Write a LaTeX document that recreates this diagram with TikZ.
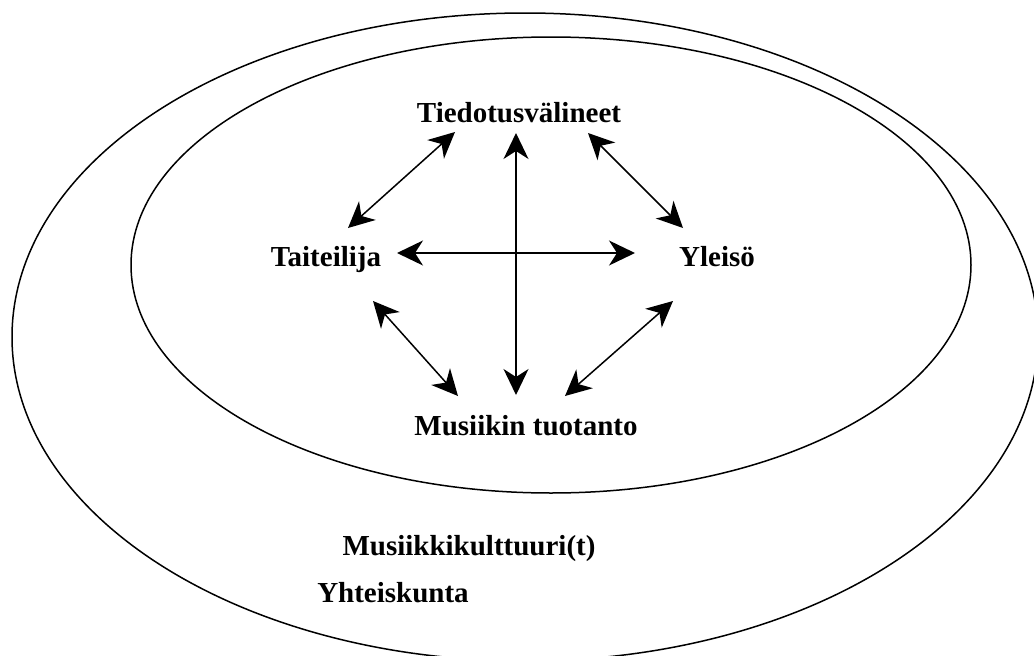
\documentclass[tikz,border=0pt]{standalone}
\usepackage{fontspec}
\setmainfont{Liberation Serif}
\usetikzlibrary{arrows.meta,calc}
\begin{document}
\begin{tikzpicture}[x=1pt, y=-1pt,
    lbl/.style={font=\fontsize{29}{34}\selectfont\bfseries, inner sep=0pt, anchor=base},
    twoway/.style={{Stealth[length=26pt,width=25pt,inset=8pt]}-{Stealth[length=26pt,width=25pt,inset=8pt]}, line width=1.5pt}]
    \useasboundingbox (0,0) rectangle (1034,656);
    \clip (0,0) rectangle (1034,656);
    % Yhteiskunta and musiikkikulttuuri(t)
    \draw[line width=1.5pt] (525,337) ellipse [x radius=513, y radius=324];
    \draw[line width=1.5pt] (551,265) ellipse [x radius=420, y radius=228];
    % ... labels
    \node[lbl] (media) at (519,122) {Tiedotusvälineet};
    \node[lbl] (artist) at (326,266) {Taiteilija};
    \node[lbl] (public) at (717,266) {Yleisö};
    \node[lbl] (prod) at (526,435) {Musiikin tuotanto};
    \node[lbl] (culture) at (469,555) {Musiikkikulttuuri(t)};
    \node[lbl] (society) at (393,602) {Yhteiskunta};
    % arrow ends, offsets from the labels
    \coordinate (a1) at ($(artist.base)+(71,-13)$); \coordinate (p1) at ($(public.base)+(-82,-13)$);
    \coordinate (m1) at ($(media.base)+(-3,11)$);   \coordinate (r1) at ($(prod.base)+(-10,-40)$);
    \coordinate (m2) at ($(media.base)+(-64,10)$);  \coordinate (a2) at ($(artist.base)+(22,-38)$);
    \coordinate (m3) at ($(media.base)+(69,11)$);   \coordinate (p2) at ($(public.base)+(-34,-38)$);
    \coordinate (a3) at ($(artist.base)+(47,35)$);  \coordinate (r2) at ($(prod.base)+(-68,-39)$);
    \coordinate (p3) at ($(public.base)+(-44,35)$); \coordinate (r3) at ($(prod.base)+(39,-39)$);
    \foreach \s/\t in {a1/p1, m1/r1, m2/a2, m3/p2, a3/r2, p3/r3}
        \draw[twoway] (\s) -- (\t);
\end{tikzpicture}
\end{document}
